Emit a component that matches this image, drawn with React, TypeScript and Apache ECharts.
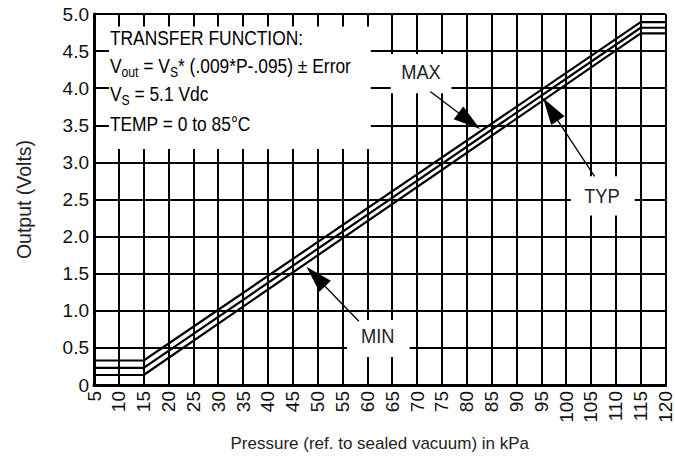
import React, { useEffect, useRef } from "react";
import * as echarts from "echarts";

// ---- data ----
const pressure = [5, 15, 115, 120];
const maxOut = [0.33, 0.33, 4.89, 4.89];
const typOut = [0.23, 0.23, 4.815, 4.815];
const minOut = [0.135, 0.135, 4.74, 4.74];

const xTickLabels = ["5","10","15","20","25","30","35","40","45","50","55","60","65","70","75","80","85","90","95","100","105","110","115","120"];
const yTickLabels = ["0","0.5","1.0","1.5","2.0","2.5","3.0","3.5","4.0","4.5","5.0"];

const xTitle = "Pressure (ref. to sealed vacuum) in kPa";
const yTitle = "Output (Volts)";

// annotation placements (data coordinates)
const infoBox = { x0: 8.0, x1: 60.7, y0: 3.18, y1: 4.83 };
const infoLines = [
  { y: 4.671, text: "{n|TRANSFER FUNCTION:}" },
  { y: 4.302, text: "{n|V}{s|out}{n| = V}{s|S}{n|* (.009*P-.095) ± Error}" },
  { y: 3.92, text: "{n|V}{s|S}{n| = 5.1 Vdc}" },
  { y: 3.511, text: "{n|TEMP = 0 to 85°C}" },
];
const infoX = 8.2;

const callouts = [
  { label: "MAX", lx: 70.8, ly: 4.229, box: [64.7, 76.93, 3.933, 4.46], from: [72.66, 3.955], to: [82.68, 3.449] },
  { label: "TYP", lx: 107.2, ly: 2.549, box: [100.97, 113.8, 2.286, 2.813], from: [105.72, 2.813], to: [95.36, 3.867] },
  { label: "MIN", lx: 62.1, ly: 0.672, box: [55.9, 68.5, 0.376, 0.876], from: [58.3, 0.859], to: [47.74, 1.592] },
];

const FONT = '"Liberation Sans", Arial, Helvetica, sans-serif';
const NARROW = 0.87;

export default function App() {
  const ref = useRef<HTMLDivElement>(null);

  useEffect(() => {
    const chart = echarts.init(ref.current!, null, { renderer: "svg" });
    const mk = (name: string, ys: number[]) => ({
      name,
      type: "line",
      data: pressure.map((p, i) => [p, ys[i]]),
      symbol: "none",
      silent: true,
      lineStyle: { color: "#000", width: 2.2 },
      z: 3,
    });
    chart.setOption({
      animation: false,
      grid: { left: 94, right: 7, top: 14, bottom: 63.5 },
      xAxis: {
        type: "value",
        min: 5,
        max: 120,
        interval: 5,
        name: xTitle,
        nameLocation: "middle",
        nameGap: 50,
        nameTextStyle: { fontFamily: FONT, fontSize: 17, color: "#222" },
        axisLine: { show: true, lineStyle: { color: "#000", width: 3 } },
        axisTick: { show: false },
        axisLabel: {
          rotate: 90,
          margin: 6,
          fontFamily: FONT,
          fontSize: 19,
          color: "#111",
          formatter: (v: number) => xTickLabels[Math.round((v - 5) / 5)] ?? String(v),
        },
        splitLine: { show: true, lineStyle: { color: "#000", width: 2 } },
      },
      yAxis: {
        type: "value",
        min: 0,
        max: 5,
        interval: 0.5,
        name: yTitle,
        nameLocation: "middle",
        nameGap: 60,
        nameTextStyle: { fontFamily: FONT, fontSize: 19.5, color: "#222" },
        axisLine: { show: true, lineStyle: { color: "#000", width: 3 } },
        axisTick: { show: false },
        axisLabel: {
          margin: 5,
          fontFamily: FONT,
          fontSize: 19,
          color: "#111",
          formatter: (v: number) => yTickLabels[Math.round(v / 0.5)] ?? String(v),
        },
        splitLine: { show: true, lineStyle: { color: "#000", width: 2 } },
      },
      series: [mk("MAX", maxOut), mk("TYP", typOut), mk("MIN", minOut)],
    });

    const px = (x: number, y: number) => chart.convertToPixel({ gridIndex: 0 }, [x, y]) as number[];
    const els: any[] = [];
    const rectFrom = (x0: number, x1: number, y0: number, y1: number) => {
      const a = px(x0, y1);
      const b = px(x1, y0);
      return { type: "rect", z: 100, shape: { x: a[0], y: a[1], width: b[0] - a[0], height: b[1] - a[1] }, style: { fill: "#fff" }, silent: true };
    };
    els.push(rectFrom(infoBox.x0, infoBox.x1, infoBox.y0, infoBox.y1));
    infoLines.forEach((ln) => {
      const p = px(infoX, ln.y);
      els.push({
        type: "text",
        z: 101,
        x: p[0],
        y: p[1],
        scaleX: NARROW,
        silent: true,
        style: {
          text: ln.text,
          align: "left",
          verticalAlign: "middle",
          rich: {
            n: { fontFamily: FONT, fontSize: 20, lineHeight: 26, color: "#111", verticalAlign: "middle" },
            s: { fontFamily: FONT, fontSize: 14, lineHeight: 14, color: "#111", verticalAlign: "bottom" },
          },
        },
      });
    });
    callouts.forEach((c) => {
      els.push(rectFrom(c.box[0], c.box[1], c.box[2], c.box[3]));
      const lp = px(c.lx, c.ly);
      els.push({
        type: "text",
        z: 101,
        x: lp[0],
        y: lp[1],
        scaleX: NARROW,
        silent: true,
        style: { text: c.label, fontFamily: FONT, fontSize: 21, fill: "#222", align: "center", verticalAlign: "middle" },
      });
      const s = px(c.from[0], c.from[1]);
      const t = px(c.to[0], c.to[1]);
      const dx = t[0] - s[0];
      const dy = t[1] - s[1];
      const len = Math.hypot(dx, dy);
      const ux = dx / len;
      const uy = dy / len;
      const hl = 27;
      const hw = 8;
      const bx = t[0] - ux * hl;
      const by = t[1] - uy * hl;
      els.push({
        type: "line",
        z: 102,
        silent: true,
        shape: { x1: s[0], y1: s[1], x2: bx + ux * 4, y2: by + uy * 4 },
        style: { stroke: "#000", lineWidth: 1.3 },
      });
      els.push({
        type: "polygon",
        z: 102,
        silent: true,
        shape: { points: [[t[0], t[1]], [bx - uy * hw, by + ux * hw], [bx + uy * hw, by - ux * hw]] },
        style: { fill: "#000" },
      });
    });
    chart.setOption({ graphic: { elements: els } });

    return () => chart.dispose();
  }, []);

  return <div ref={ref} style={{ position: "absolute", left: 0, top: 0, width: 675, height: 457 }} />;
}
